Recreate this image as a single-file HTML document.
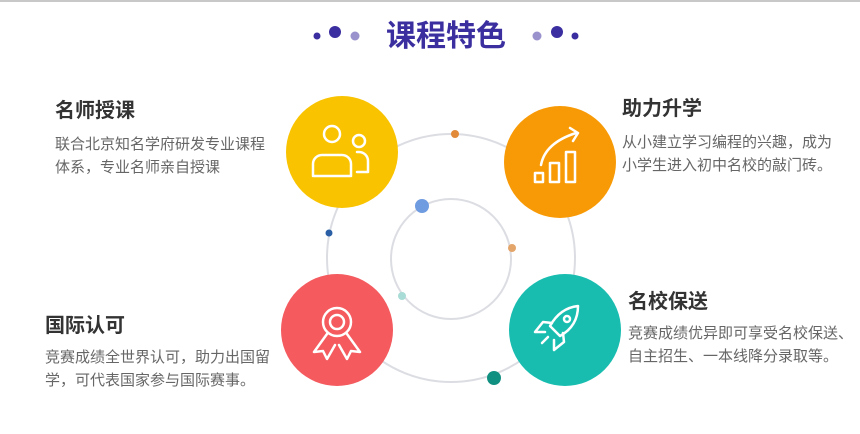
<!DOCTYPE html>
<html><head><meta charset="utf-8"><style>
html,body{margin:0;padding:0;background:#fff;}
body{width:860px;height:434px;overflow:hidden;position:relative;font-family:"Liberation Sans","Noto Sans CJK SC",sans-serif;}
.t{position:absolute;font-size:20px;font-weight:bold;color:#333;white-space:nowrap;line-height:24px;}
.d{position:absolute;font-size:15px;color:#666;white-space:nowrap;line-height:23px;}
</style></head><body>
<div style="position:absolute;left:0;top:0;width:860px;height:2px;background:#c8c8c8"></div>
<svg width="860" height="434" style="position:absolute;left:0;top:0">
<circle cx="317" cy="36" r="3.5" fill="#3a2ea0"/><circle cx="335" cy="32" r="6" fill="#3a2ea0"/><circle cx="355" cy="36" r="4.5" fill="#9a92cc"/>
<circle cx="537" cy="36" r="4.5" fill="#9a92cc"/><circle cx="557" cy="32" r="6" fill="#3a2ea0"/><circle cx="575" cy="36" r="3.5" fill="#3a2ea0"/>
<text x="446" y="46" text-anchor="middle" font-size="30" font-weight="bold" fill="#3b2fa0" font-family="Liberation Sans,Noto Sans CJK SC,sans-serif">课程特色</text>
<circle cx="451" cy="258" r="124" fill="none" stroke="#dcdde3" stroke-width="2"/>
<circle cx="451" cy="259" r="60" fill="none" stroke="#dcdde3" stroke-width="2"/>
<circle cx="455" cy="134" r="4" fill="#e08a3a"/>
<circle cx="329" cy="233" r="3.5" fill="#2a5fa5"/>
<circle cx="422" cy="206" r="7" fill="#6f9be0"/>
<circle cx="512" cy="248" r="4" fill="#e4a56a"/>
<circle cx="402" cy="296" r="4" fill="#a9dcd6"/>
<circle cx="494" cy="378" r="7" fill="#109080"/>
<circle cx="342" cy="152" r="56" fill="#f9c300"/>
<circle cx="560" cy="162" r="56" fill="#f89a06"/>
<circle cx="337" cy="330" r="56" fill="#f45a5e"/>
<circle cx="565" cy="330" r="56" fill="#18bdb0"/>
<g fill="none" stroke="#fff" stroke-width="2.5" stroke-linecap="round" stroke-linejoin="round">
<circle cx="332" cy="134" r="8"/><circle cx="359" cy="141" r="6"/>
<path d="M313 176 v-12 a9 9 0 0 1 9 -9 h20 a9 9 0 0 1 9 9 v12 z"/>
<path d="M357 152 h2 a9 9 0 0 1 9 9 v11 h-11"/>
<path d="M541 165 q4 -22 35 -32 M570 128 l8 5 l-5 8"/>
<rect x="535" y="173" width="8" height="9"/><rect x="550" y="163" width="9" height="19"/><rect x="566" y="152" width="9" height="30"/>
<circle cx="337" cy="322" r="14"/><circle cx="337" cy="322" r="7"/>
<path d="M327 334 l-13 18 l9 -1 l4 8 l8 -14 M347 334 l13 18 l-9 -1 l-4 8 l-8 -14"/>
<path d="M578 306 q-18 2 -28 20 l10 10 q18 -10 18 -30 z"/><circle cx="567" cy="319" r="3"/>
<path d="M552 323 l-9 -1 l-8 10 l10 0 M563 333 l1 9 l-10 8 l0 -10 M548 337 l-6 6"/>
</g>
</svg>
<div class="t" style="left:55px;top:99px">名师授课</div>
<div class="d" style="left:55px;top:133px">联合北京知名学府研发专业课程<br>体系，专业名师亲自授课</div>
<div class="t" style="left:622px;top:97px">助力升学</div>
<div class="d" style="left:622px;top:131px">从小建立学习编程的兴趣，成为<br>小学生进入初中名校的敲门砖。</div>
<div class="t" style="left:45px;top:314px">国际认可</div>
<div class="d" style="left:45px;top:346px">竞赛成绩全世界认可，助力出国留<br>学，可代表国家参与国际赛事。</div>
<div class="t" style="left:628px;top:290px">名校保送</div>
<div class="d" style="left:628px;top:322px">竞赛成绩优异即可享受名校保送、<br>自主招生、一本线降分录取等。</div>
</body></html>
